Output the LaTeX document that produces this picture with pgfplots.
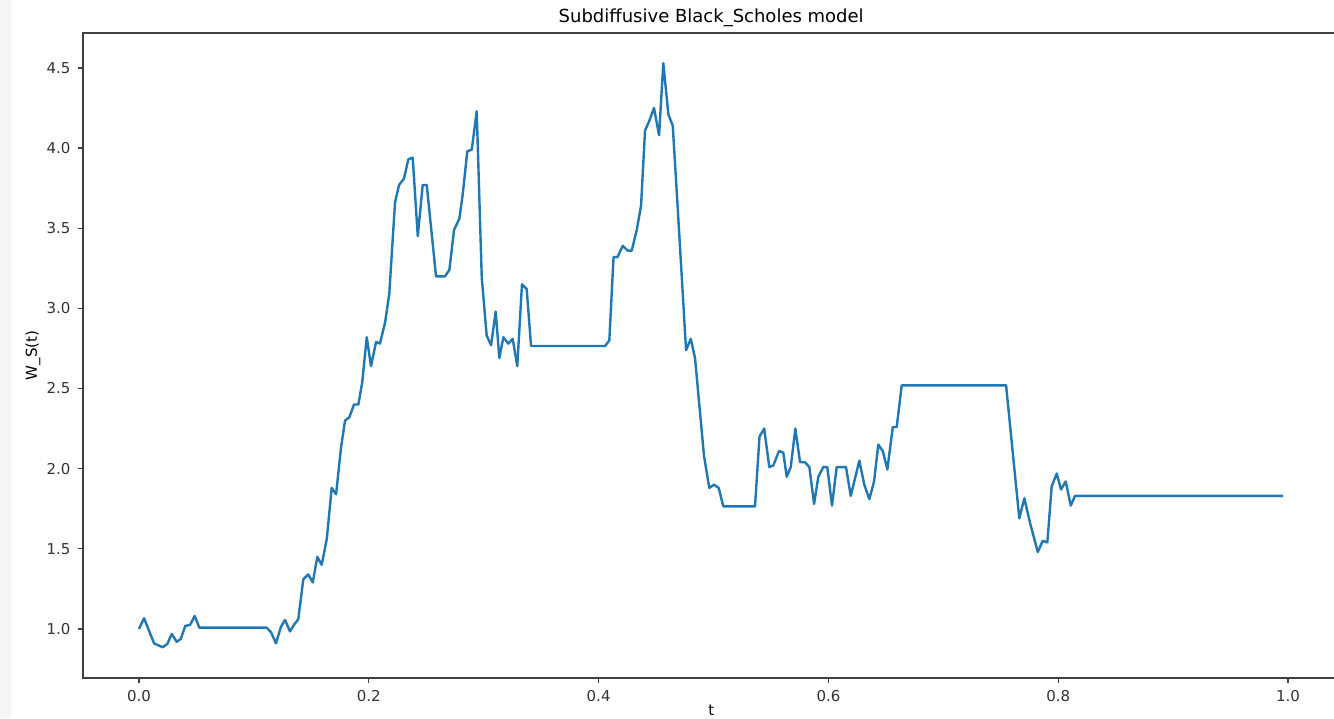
\documentclass[border=0pt]{standalone}
\usepackage{fontspec}
\setmainfont{DejaVu Sans}
\usepackage{pgfplots}
\pgfplotsset{compat=1.18}
\definecolor{mplblue}{HTML}{1F77B4}
\definecolor{strip}{RGB}{245,245,245}
\begin{document}
\begin{tikzpicture}
\useasboundingbox (0,0) rectangle (667pt,359pt);
\clip (0,0) rectangle (667pt,359pt);
\fill[white] (0,0) rectangle (667pt,359pt);
\fill[strip] (0,0) rectangle (5.5pt,359pt);
\begin{axis}[
  at={(41.5pt,20pt)}, anchor=south west,
  scale only axis, width=632pt, height=322.5pt,
  xmin=-0.04874, xmax=1.0513, ymin=0.694, ymax=4.718,
  xtick pos=bottom, ytick pos=left,
  axis line style={black!75, line width=0.6pt},
  every tick/.style={black!75, line width=0.6pt},
  tick align=outside, major tick length=2.7pt,
  xtick={0,0.2,0.4,0.6,0.8,1.0},
  ytick={1.0,1.5,2.0,2.5,3.0,3.5,4.0,4.5},
  /pgf/number format/assume math mode=true,
  xticklabel style={/pgf/number format/fixed,/pgf/number format/fixed zerofill,/pgf/number format/precision=1,font=\fontsize{7.5}{8.5}\selectfont, text=black!80},
  yticklabel style={/pgf/number format/fixed,/pgf/number format/fixed zerofill,/pgf/number format/precision=1,font=\fontsize{7.5}{8.5}\selectfont, text=black!80},
  title={Subdiffusive Black\_Scholes model},
  title style={at={(axis description cs:0.497,1)}, anchor=base, yshift=-1pt, font=\fontsize{9}{11}\selectfont},
  xlabel={t},
  xlabel style={at={(axis description cs:0.497,0)}, anchor=north, yshift=-13.5pt, inner sep=0pt, font=\fontsize{7.5}{8.5}\selectfont},
  ylabel={W\_S(t)},
  ylabel style={at={(axis description cs:0,0.5)}, anchor=center, yshift=25pt, font=\fontsize{7.5}{8.5}\selectfont},
]
\addplot[mplblue, line width=1.2pt, line join=round] coordinates {
(0.0000,1.000) (0.0044,1.067) (0.0131,0.910) (0.0206,0.886) (0.0246,0.906)
(0.0285,0.969) (0.0328,0.920) (0.0363,0.937) (0.0403,1.019) (0.0444,1.025)
(0.0485,1.081) (0.0525,1.008) (0.1111,1.008) (0.1149,0.980) (0.1192,0.910)
(0.1236,1.015) (0.1271,1.056) (0.1314,0.985) (0.1353,1.030) (0.1386,1.060)
(0.1430,1.310) (0.1473,1.340) (0.1512,1.290) (0.1552,1.450) (0.1590,1.400)
(0.1634,1.560) (0.1677,1.880) (0.1715,1.840) (0.1758,2.130) (0.1793,2.300)
(0.1830,2.320) (0.1871,2.400) (0.1909,2.400) (0.1943,2.540) (0.1982,2.820)
(0.2019,2.640) (0.2063,2.790) (0.2097,2.780) (0.2141,2.910) (0.2178,3.090)
(0.2228,3.660) (0.2263,3.770) (0.2306,3.810) (0.2344,3.930) (0.2382,3.940)
(0.2426,3.450) (0.2469,3.770) (0.2504,3.770) (0.2585,3.200) (0.2663,3.200)
(0.2701,3.240) (0.2742,3.490) (0.2788,3.560) (0.2817,3.710) (0.2857,3.980)
(0.2896,3.990) (0.2939,4.230) (0.2983,3.190) (0.3026,2.830) (0.3064,2.770)
(0.3104,2.980) (0.3136,2.690) (0.3171,2.820) (0.3214,2.780) (0.3252,2.810)
(0.3292,2.640) (0.3333,3.150) (0.3374,3.120) (0.3412,2.765) (0.4056,2.765)
(0.4093,2.800) (0.4130,3.320) (0.4164,3.320) (0.4210,3.390) (0.4253,3.360)
(0.4288,3.360) (0.4332,3.490) (0.4369,3.640) (0.4404,4.110) (0.4441,4.170)
(0.4482,4.250) (0.4526,4.080) (0.4563,4.530) (0.4607,4.210) (0.4645,4.140)
(0.4688,3.630) (0.4761,2.740) (0.4802,2.810) (0.4839,2.690) (0.4917,2.080)
(0.4963,1.880) (0.5004,1.900) (0.5045,1.880) (0.5085,1.765) (0.5361,1.765)
(0.5400,2.200) (0.5441,2.250) (0.5485,2.010) (0.5520,2.020) (0.5570,2.110)
(0.5607,2.100) (0.5637,1.950) (0.5672,2.010) (0.5712,2.250) (0.5753,2.040)
(0.5796,2.040) (0.5834,2.010) (0.5875,1.780) (0.5912,1.950) (0.5956,2.010)
(0.5990,2.010) (0.6031,1.770) (0.6072,2.010) (0.6153,2.010) (0.6194,1.830)
(0.6269,2.050) (0.6312,1.900) (0.6356,1.810) (0.6397,1.920) (0.6434,2.150)
(0.6473,2.110) (0.6513,1.995) (0.6560,2.260) (0.6594,2.260) (0.6638,2.520)
(0.7546,2.520) (0.7661,1.690) (0.7705,1.815) (0.7755,1.660) (0.7822,1.480)
(0.7865,1.550) (0.7905,1.540) (0.7943,1.890) (0.7987,1.970) (0.8024,1.870)
(0.8065,1.920) (0.8109,1.770) (0.8146,1.830) (0.9956,1.830)
};
\end{axis}
\end{tikzpicture}
\end{document}
